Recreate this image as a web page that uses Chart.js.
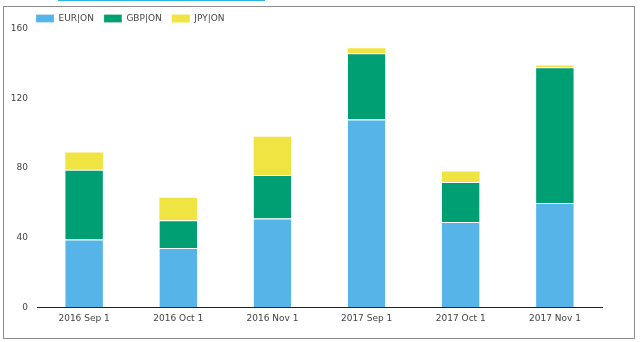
<!DOCTYPE html>
<html>
<head>
<meta charset="utf-8">
<script src="https://cdn.jsdelivr.net/npm/chart.js@4.4.1/dist/chart.umd.min.js"></script>
<style>
  html, body { margin: 0; padding: 0; background: #fff; }
  #wrap { position: relative; width: 642px; height: 342px; }
  #frame { position: absolute; left: 3px; top: 6px; width: 630px; height: 331px; border: 1px solid #8c8c8c; pointer-events: none; }
  #topbar { position: absolute; left: 58px; top: 0; width: 207px; height: 1px; background: #2cb5e8; }
  canvas { position: absolute; left: 0; top: 0; }
</style>
</head>
<body>
<div id="wrap">
  <canvas id="c" width="642" height="342"></canvas>
  <div id="frame"></div>
  <div id="topbar"></div>
</div>
<script>
  // ---------- dados ----------
  const categories = ['2016 Sep 1', '2016 Oct 1', '2016 Nov 1', '2017 Sep 1', '2017 Oct 1', '2017 Nov 1'];
  const eurOn = [39, 34, 51, 108, 49, 60];
  const gbpOn = [40, 16, 25, 38, 23, 78];
  const jpyOn = [10, 13, 22, 3, 6, 1];
  const yTicks = [0, 40, 80, 120, 160];

  const FONT = { family: '"DejaVu Sans", Verdana, sans-serif', size: 9 };
  const TXT = '#444';

  function ds(label, data, color, sep) {
    return {
      label, data, backgroundColor: color, stack: 's',
      borderColor: '#fff', borderWidth: sep ? { top: 1, left: 0, right: 0, bottom: 0 } : 0, borderSkipped: false,
      barPercentage: 0.4, categoryPercentage: 1,
    };
  }

  // move a legenda para o canto (não mexe no layout)
  const legendPos = {
    id: 'legendPos',
    afterLayout(chart) {
      const l = chart.legend;
      const dx = 26 - l.left, dy = 4 - l.top;
      l.left += dx; l.right += dx; l.top += dy; l.bottom += dy;
    },
  };

  new Chart(document.getElementById('c'), {
    type: 'bar',
    data: {
      labels: categories,
      datasets: [
        ds('EUR|ON', eurOn, '#56b4e9', true),
        ds('GBP|ON', gbpOn, '#009e73', true),
        ds('JPY|ON', jpyOn, '#f0e442', false),
      ],
    },
    plugins: [legendPos],
    options: {
      responsive: false, animation: false,
      layout: { padding: { left: 0, right: 40, top: 0, bottom: 12 } },
      plugins: {
        legend: {
          position: 'top', align: 'start',
          labels: { boxWidth: 18, boxHeight: 8, padding: 10, color: TXT, font: FONT },
        },
        tooltip: { enabled: false },
      },
      scales: {
        x: {
          stacked: true,
          grid: { display: false, drawTicks: false },
          border: { display: true, color: '#222', width: 1 },
          ticks: { color: TXT, font: FONT, padding: 6, maxRotation: 0 },
        },
        y: {
          stacked: true, min: 0, max: 160,
          afterFit: (s) => { s.width = 37; },
          afterBuildTicks: (s) => { s.ticks = yTicks.map((v) => ({ value: v })); },
          grid: { display: false, drawTicks: false },
          border: { display: false },
          ticks: { color: TXT, font: FONT, padding: 9 },
        },
      },
    },
  });
</script>
</body>
</html>
